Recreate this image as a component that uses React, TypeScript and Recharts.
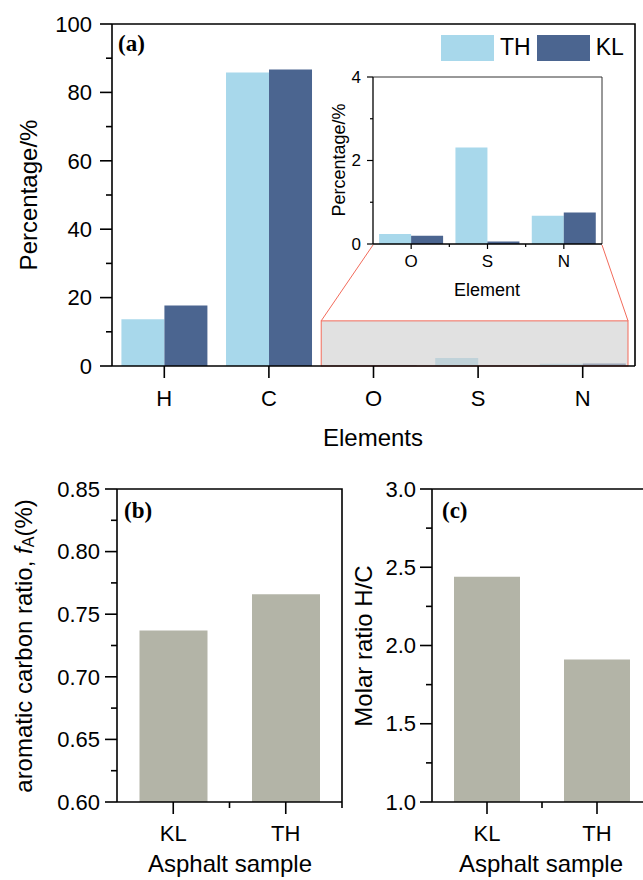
import React from 'react';
import { BarChart, Bar, XAxis, YAxis, ReferenceArea, Legend } from 'recharts';

// panel (a): element content, %
const elements = ['H', 'C', 'O', 'S', 'N'];
const thPercent = [13.7, 85.8, 0.24, 2.31, 0.675];
const klPercent = [17.7, 86.7, 0.2, 0.06, 0.754];
const insetElements = ['O', 'S', 'N'];
const seriesNames = ['TH', 'KL'];
const ticksA = [0, 10, 20, 30, 40, 50, 60, 70, 80, 90, 100];
const ticksInset = [0, 1, 2, 3, 4];

// panels (b) and (c)
const samples = ['KL', 'TH'];
const aromaticRatio = [0.737, 0.766];
const molarRatioHC = [2.44, 1.91];
const ticksB = [0.6, 0.625, 0.65, 0.675, 0.7, 0.725, 0.75, 0.775, 0.8, 0.825, 0.85];
const ticksC = [1, 1.25, 1.5, 1.75, 2, 2.25, 2.5, 2.75, 3];

const TH_COLOR = '#a8d8eb';
const KL_COLOR = '#4b6590';
const GRAY_BAR = '#b3b4a7';
const RED = '#f26b5b';
const SANS = '"Liberation Sans", Arial, sans-serif';
const SERIF = '"Liberation Serif", "Times New Roman", serif';

const elementData = elements.map((e, i) => ({ element: e, TH: thPercent[i], KL: klPercent[i] }));
const insetData = elementData.filter((d) => insetElements.includes(d.element));
const sampleData = samples.map((s, i) => ({ sample: s, fA: aromaticRatio[i], hc: molarRatioHC[i] }));

// inset plot corners on the page (for the zoom lines)
const INSET = { left: 373, right: 602, bottom: 245 };

const isMult = (step: number) => (v: number) => Math.abs(v / step - Math.round(v / step)) < 1e-6;

// value-axis tick: outward mark (long major / short minor), label on majors only
function YTick(props: any) {
  const { x, y, payload, o } = props;
  const ax = Number(x) + o.ts + o.tm;
  const major = o.isMajor(payload.value);
  const len = major ? o.ts : o.minor;
  return (
    <g>
      <path d={`M${ax - len},${y}H${ax}`} stroke="#000" strokeWidth={o.sw} fill="none" />
      {major && (
        <text x={x} y={y} dy="0.35em" textAnchor="end" fontSize={o.fs} fontFamily={SANS} fill="#000" stroke="none">
          {o.fmt(payload.value)}
        </text>
      )}
    </g>
  );
}

// category tick: mark at the centre, optional short mark at the band edge
function XTick(props: any) {
  const { x, y, payload, index, o } = props;
  const xx = Number(x);
  const ay = Number(y) - o.ts - o.tm;
  const showMinor = o.minor && (index < o.n - 1 || o.minorAtEnd);
  return (
    <g>
      <path d={`M${xx},${ay}v${o.ts}`} stroke="#000" strokeWidth={o.sw} fill="none" />
      {showMinor && <path d={`M${xx + o.band / 2},${ay}v${o.minor}`} stroke="#000" strokeWidth={o.sw} fill="none" />}
      <text x={xx} y={y} dy="0.71em" textAnchor="middle" fontSize={o.fs} fontFamily={SANS} fill="#000" stroke="none">
        {payload.value}
      </text>
    </g>
  );
}

function Caption(props: any) {
  const { px, py, text, fs = 24, rotate = false } = props;
  return (
    <text
      x={px}
      y={py}
      fontSize={fs}
      fontFamily={SANS}
      textAnchor="middle"
      dominantBaseline={rotate ? 'central' : 'auto'}
      transform={rotate ? `rotate(-90 ${px} ${py})` : undefined}
      fill="#000"
    >
      {text}
    </text>
  );
}

// top / right border of the plot and the panel tag
function frame(f: any) {
  return (p: any) => {
    const x = Number(p.x);
    const y = Number(p.y);
    const w = Number(p.width);
    const h = Number(p.height);
    return (
      <g>
        <path d={`M${x},${y}H${x + w}V${y + h}`} stroke={f.color || '#000'} strokeWidth={f.sw} fill="none" />
        {f.tag && (
          <text x={x + f.tagDx} y={y + f.tagDy} fontSize={23} fontFamily={SERIF} fontWeight="bold" fill="#000">
            {f.tag}
          </text>
        )}
      </g>
    );
  };
}

// x1/x2 arrive as the outer band edges of O and N
function ZoomBox(props: any) {
  const x = Number(props.x);
  const right = x + Number(props.width) - 7;
  const y = Number(props.y);
  const h = Number(props.height);
  return (
    <g>
      <line x1={x} y1={y} x2={INSET.left} y2={INSET.bottom} stroke={RED} strokeWidth={1} />
      <line x1={right} y1={y} x2={INSET.right} y2={INSET.bottom} stroke={RED} strokeWidth={1} />
      <rect x={x} y={y} width={right - x} height={h} fill="#cfcfcf" fillOpacity={0.62} stroke={RED} strokeWidth={1} />
    </g>
  );
}

function LegendBox(props: any) {
  const items = [...(props.payload || [])].sort((a: any, b: any) => seriesNames.indexOf(a.value) - seriesNames.indexOf(b.value));
  return (
    <div style={{ display: 'flex', alignItems: 'center', fontFamily: SANS, fontSize: 23, color: '#000' }}>
      {items.map((it: any) => (
        <div key={it.value} style={{ display: 'flex', alignItems: 'center', marginRight: 6 }}>
          <span style={{ display: 'inline-block', width: 53, height: 26, background: it.color, marginRight: 6 }} />
          <span>{it.value}</span>
        </div>
      ))}
    </div>
  );
}

const axisLine = { stroke: '#000', strokeWidth: 1.6 };

export default function App() {
  return (
    <div style={{ position: 'absolute', left: 0, top: 0, width: 643, height: 880, overflow: 'hidden', background: '#fff' }}>
      {/* (a) main */}
      <div style={{ position: 'absolute', left: 0, top: 0 }}>
        <BarChart width={643} height={450} data={elementData} margin={{ top: 24, right: 8, left: 0, bottom: 0 }} barCategoryGap="9%" barGap={0}>
          <XAxis
            dataKey="element"
            height={84}
            axisLine={axisLine}
            tickLine={false}
            tickSize={12}
            tickMargin={12}
            interval={0}
            tick={<XTick o={{ ts: 12, tm: 12, fs: 22, sw: 1.6, minor: 0, n: elements.length, band: 523 / elements.length }} />}
            label={<Caption px={373} py={446} text="Elements" fs={24} />}
          />
          <YAxis
            width={112}
            domain={[0, 100]}
            ticks={ticksA}
            interval={0}
            axisLine={axisLine}
            tickLine={false}
            tickSize={12}
            tickMargin={8}
            tick={<YTick o={{ ts: 12, tm: 8, minor: 6, fs: 22, sw: 1.6, isMajor: isMult(20), fmt: (v: number) => String(v) }} />}
            label={<Caption px={28} py={195} text="Percentage/%" fs={24} rotate />}
          />
          <ReferenceArea x1={elements[0]} x2={elements[elements.length - 1]} y1={0} y2={100} shape={frame({ sw: 1.6, tag: '(a)', tagDx: 6, tagDy: 27 })} />
          <Bar dataKey="TH" fill={TH_COLOR} isAnimationActive={false} />
          <Bar dataKey="KL" fill={KL_COLOR} isAnimationActive={false} />
          <ReferenceArea x1="O" x2="N" y1={0} y2={13.2} shape={ZoomBox} zIndex={450} />
          <Legend
            layout="horizontal"
            verticalAlign="middle"
            align="center"
            wrapperStyle={{ left: 441, top: 34, width: 'auto', margin: 0, padding: 0 }}
            content={<LegendBox />}
          />
        </BarChart>
      </div>

      {/* (a) inset */}
      <div style={{ position: 'absolute', left: 320, top: 60 }}>
        <BarChart width={290} height={240} data={insetData} margin={{ top: 17, right: 8, left: 0, bottom: 0 }} barCategoryGap="8%" barGap={0}>
          <XAxis
            dataKey="element"
            height={56}
            axisLine={{ stroke: '#000', strokeWidth: 1.3 }}
            tickLine={false}
            tickSize={5}
            tickMargin={6}
            interval={0}
            tick={<XTick o={{ ts: 5, tm: 6, fs: 17, sw: 1.2, minor: 3, n: insetElements.length, band: 229 / insetElements.length }} />}
            label={<Caption px={167} py={236} text="Element" fs={18} />}
          />
          <YAxis
            width={53}
            domain={[0, 4]}
            ticks={ticksInset}
            interval={0}
            axisLine={{ stroke: '#000', strokeWidth: 1.3 }}
            tickLine={false}
            tickSize={6}
            tickMargin={6}
            tick={<YTick o={{ ts: 6, tm: 6, minor: 3, fs: 17, sw: 1.2, isMajor: isMult(2), fmt: (v: number) => String(v) }} />}
            label={<Caption px={19} py={100} text="Percentage/%" fs={18} rotate />}
          />
          <ReferenceArea x1={insetElements[0]} x2={insetElements[insetElements.length - 1]} y1={0} y2={4} shape={frame({ sw: 1, color: '#333' })} />
          <Bar dataKey="TH" fill={TH_COLOR} isAnimationActive={false} />
          <Bar dataKey="KL" fill={KL_COLOR} isAnimationActive={false} />
        </BarChart>
      </div>

      {/* (b) */}
      <div style={{ position: 'absolute', left: 0, top: 450 }}>
        <BarChart width={345} height={430} data={sampleData} margin={{ top: 39, right: 3, left: 0, bottom: 0 }} barCategoryGap="20%">
          <XAxis
            dataKey="sample"
            height={78}
            axisLine={axisLine}
            tickLine={false}
            tickSize={12}
            tickMargin={11}
            interval={0}
            tick={<XTick o={{ ts: 12, tm: 11, fs: 22, sw: 1.6, minor: 6, minorAtEnd: true, n: samples.length, band: 225 / samples.length }} />}
            label={<Caption px={230} py={422} text="Asphalt sample" fs={24} />}
          />
          <YAxis
            width={117}
            domain={[0.6, 0.85]}
            ticks={ticksB}
            interval={0}
            allowDataOverflow
            axisLine={axisLine}
            tickLine={false}
            tickSize={12}
            tickMargin={5}
            tick={<YTick o={{ ts: 12, tm: 5, minor: 6, fs: 22, sw: 1.6, isMajor: isMult(0.05), fmt: (v: number) => v.toFixed(2) }} />}
            label={
              <Caption
                px={23}
                py={196}
                fs={24}
                rotate
                text={
                  <>
                    aromatic carbon ratio, <tspan fontStyle="italic">f</tspan>
                    <tspan fontSize={16} dy={5}>A</tspan>
                    <tspan dy={-5}>(%)</tspan>
                  </>
                }
              />
            }
          />
          <ReferenceArea x1={samples[0]} x2={samples[samples.length - 1]} y1={0.6} y2={0.85} shape={frame({ sw: 1.6, tag: '(b)', tagDx: 7, tagDy: 29 })} />
          <Bar dataKey="fA" fill={GRAY_BAR} isAnimationActive={false} />
        </BarChart>
      </div>

      {/* (c) */}
      <div style={{ position: 'absolute', left: 330, top: 450 }}>
        <BarChart width={325} height={430} data={sampleData} margin={{ top: 39, right: 3, left: 0, bottom: 0 }} barCategoryGap="20%">
          <XAxis
            dataKey="sample"
            height={78}
            axisLine={axisLine}
            tickLine={false}
            tickSize={12}
            tickMargin={11}
            interval={0}
            tick={<XTick o={{ ts: 12, tm: 11, fs: 22, sw: 1.6, minor: 6, minorAtEnd: true, n: samples.length, band: 220 / samples.length }} />}
            label={<Caption px={211} py={422} text="Asphalt sample" fs={24} />}
          />
          <YAxis
            width={102}
            domain={[1, 3]}
            ticks={ticksC}
            interval={0}
            allowDataOverflow
            axisLine={axisLine}
            tickLine={false}
            tickSize={12}
            tickMargin={4}
            tick={<YTick o={{ ts: 12, tm: 4, minor: 6, fs: 22, sw: 1.6, isMajor: isMult(0.5), fmt: (v: number) => v.toFixed(1) }} />}
            label={<Caption px={33} py={196} text="Molar ratio H/C" fs={24} rotate />}
          />
          <ReferenceArea x1={samples[0]} x2={samples[samples.length - 1]} y1={1} y2={3} shape={frame({ sw: 1.6, tag: '(c)', tagDx: 10, tagDy: 29 })} />
          <Bar dataKey="hc" fill={GRAY_BAR} isAnimationActive={false} />
        </BarChart>
      </div>
    </div>
  );
}
